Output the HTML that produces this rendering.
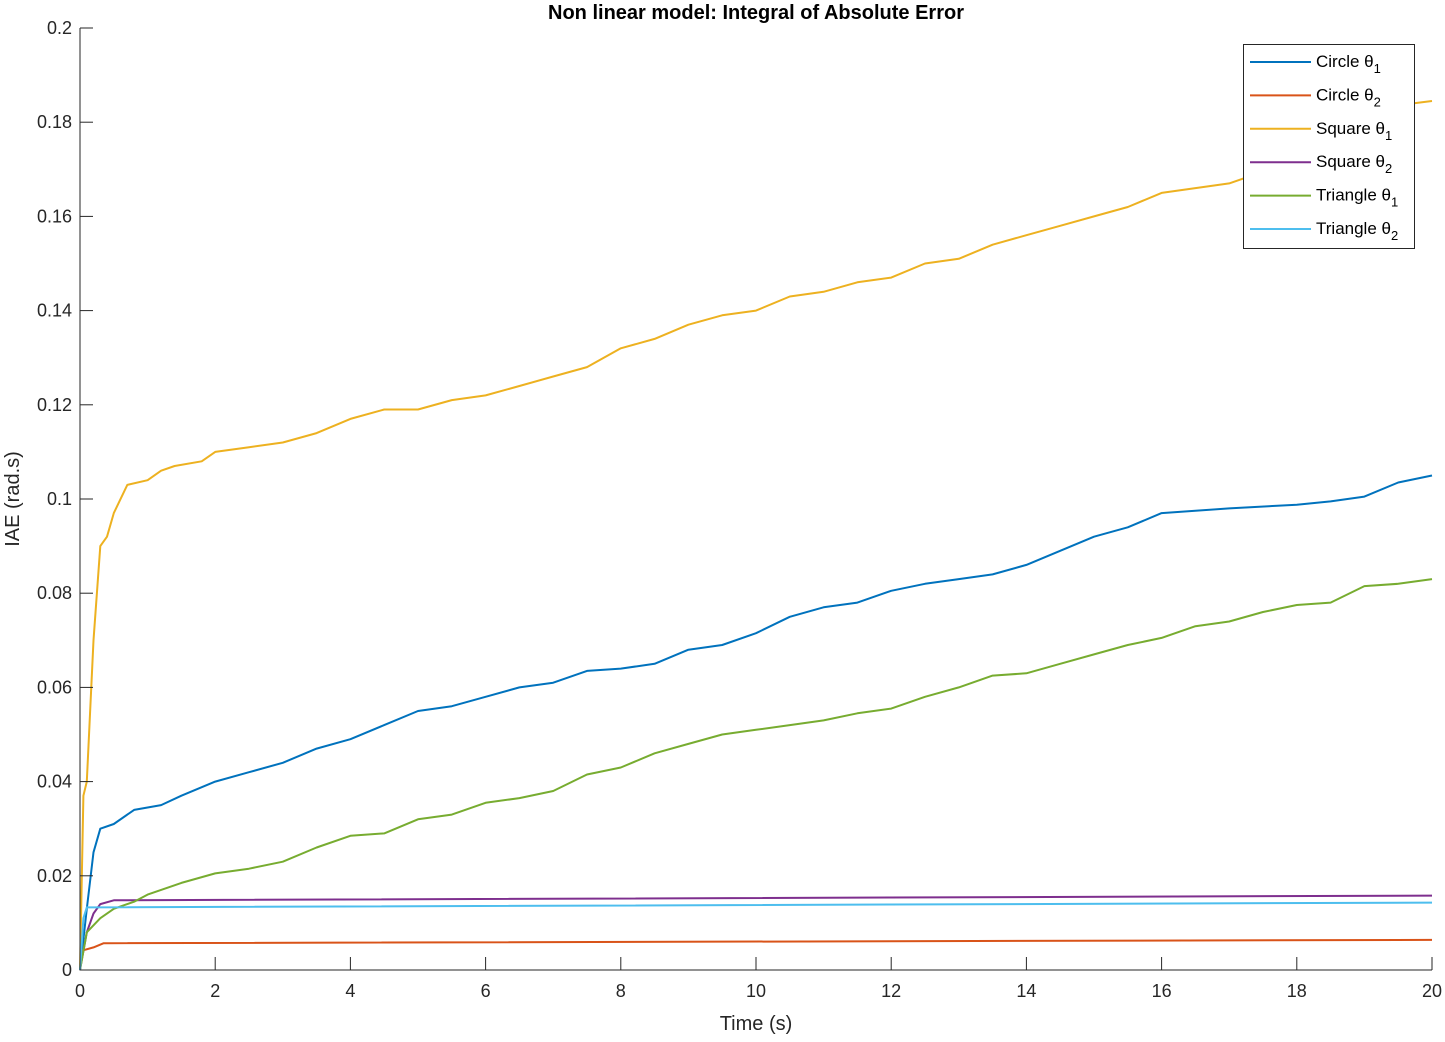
<!DOCTYPE html>
<html><head><meta charset="utf-8"><style>
body{margin:0;background:#fff;}
svg text{font-family:"Liberation Sans",Arial,sans-serif;fill:#262626;}
</style></head><body>
<svg id="chart" width="1445" height="1037" xmlns="http://www.w3.org/2000/svg">
<g id="grid"></g>
<g id="series" fill="none" stroke-width="2"></g>
<g id="axes"></g>
<text x="756" y="19" text-anchor="middle" font-size="20" font-weight="bold" style="fill:#000">Non linear model: Integral of Absolute Error</text>
<text x="756" y="1030" text-anchor="middle" font-size="20">Time (s)</text>
<text transform="translate(19,499) rotate(-90)" text-anchor="middle" font-size="20">IAE (rad.s)</text>
<g id="legend"></g>
</svg>
<script>
const xTicks=[0,2,4,6,8,10,12,14,16,18,20];
const yTicks=[0,0.02,0.04,0.06,0.08,0.1,0.12,0.14,0.16,0.18,0.2];
const yTickLabels=["0","0.02","0.04","0.06","0.08","0.1","0.12","0.14","0.16","0.18","0.2"];
const circle1T=[0,0.1,0.2,0.3,0.5,0.8,1.2,1.5,2,2.5,3,3.5,4,4.5,5,5.5,6,6.5,7,7.5,8,8.5,9,9.5,10,10.5,11,11.5,12,12.5,13,13.5,14,14.5,15,15.5,16,16.5,17,18,18.5,19,19.5,20];
const circle1V=[0,0.013,0.025,0.030,0.031,0.034,0.035,0.037,0.040,0.042,0.044,0.047,0.049,0.052,0.055,0.056,0.058,0.060,0.061,0.0635,0.064,0.065,0.068,0.069,0.0715,0.075,0.077,0.078,0.0805,0.082,0.083,0.084,0.086,0.089,0.092,0.094,0.097,0.0975,0.098,0.0988,0.0995,0.1005,0.1035,0.105];
const circle2T=[0,0.2,0.35,20];
const circle2V=[0.004,0.0048,0.0057,0.0064];
const square1T=[0,0.05,0.1,0.2,0.3,0.4,0.5,0.7,1,1.2,1.4,1.8,2,2.5,3,3.5,4,4.5,5,5.5,6,6.5,7,7.5,8,8.5,9,9.5,10,10.5,11,11.5,12,12.5,13,13.5,14,14.5,15,15.5,16,16.5,17,17.5,18,18.5,19,19.5,20];
const square1V=[0,0.037,0.04,0.07,0.09,0.092,0.097,0.103,0.104,0.106,0.107,0.108,0.110,0.111,0.112,0.114,0.117,0.119,0.119,0.121,0.122,0.124,0.126,0.128,0.132,0.134,0.137,0.139,0.140,0.143,0.144,0.146,0.147,0.150,0.151,0.154,0.156,0.158,0.160,0.162,0.165,0.166,0.167,0.1695,0.174,0.178,0.182,0.1836,0.1845];
const square2T=[0,0.1,0.2,0.3,0.5,20];
const square2V=[0,0.008,0.012,0.014,0.0148,0.0158];
const tri1T=[0,0.1,0.3,0.5,0.8,1,1.5,2,2.5,3,3.5,4,4.5,5,5.5,6,6.5,7,7.5,8,8.5,9,9.5,10,10.5,11,11.5,12,12.5,13,13.5,14,14.5,15,15.5,16,16.5,17,17.5,18,18.5,19,19.5,20];
const tri1V=[0,0.008,0.011,0.013,0.0145,0.016,0.0185,0.0205,0.0215,0.023,0.026,0.0285,0.029,0.032,0.033,0.0355,0.0365,0.038,0.0415,0.043,0.046,0.048,0.050,0.051,0.052,0.053,0.0545,0.0555,0.058,0.060,0.0625,0.063,0.065,0.067,0.069,0.0705,0.073,0.074,0.076,0.0775,0.078,0.0815,0.082,0.083];
const tri2T=[0,0.05,0.1,20];
const tri2V=[0,0.011,0.0133,0.0143];
const seriesNames=["Circle","Circle","Square","Square","Triangle","Triangle"];
const seriesSub=["1","2","1","2","1","2"];

const X0=80,X1=1432,Y0=970,Y1=28;
const sx=t=>X0+(t/20)*(X1-X0);
const sy=v=>Y0-(v/0.2)*(Y0-Y1);
const NS="http://www.w3.org/2000/svg";
function mk(tag,attrs,parent){const e=document.createElementNS(NS,tag);for(const k in attrs)e.setAttribute(k,attrs[k]);parent.appendChild(e);return e;}
const axes=document.getElementById('axes');
let a=mk('path',{d:`M${X0},${Y1}V${Y0}H${X1}`,stroke:'#262626','stroke-width':1,fill:'none'},axes);


xTicks.forEach(t=>{
  const x=sx(t);
  const l=mk('line',{x1:x,x2:x,y1:Y0,y2:Y0-13,stroke:'#262626'},axes);
  
  
  const tx=mk('text',{x:x,y:Y0+27,'text-anchor':'middle','font-size':18},axes);
  tx.textContent=t;
  
  
});
yTicks.forEach((v,i)=>{
  const y=sy(v);
  const l=mk('line',{x1:X0,x2:X0+13,y1:y,y2:y,stroke:'#262626'},axes);
  
  
  const tx=mk('text',{x:X0-8,y:y+6,'text-anchor':'end','font-size':18},axes);
  tx.textContent=yTickLabels[i];
  
  
});
const colors=['#0072BD','#D95319','#EDB120','#7E2F8E','#77AC30','#4DBEEE'];
const data=[[circle1T,circle1V],[circle2T,circle2V],[square1T,square1V],[square2T,square2V],[tri1T,tri1V],[tri2T,tri2V]];
const names=['circle-theta1-line','circle-theta2-line','square-theta1-line','square-theta2-line','triangle-theta1-line','triangle-theta2-line'];
const sg=document.getElementById('series');
data.forEach((d,i)=>{
  const pts=d[0].map((t,j)=>sx(t).toFixed(1)+','+sy(d[1][j]).toFixed(1)).join(' ');
  const p=mk('polyline',{points:pts,stroke:colors[i],'stroke-linejoin':'round'},sg);
  
  
});
const lg=document.getElementById('legend');
const box=mk('rect',{x:1243.5,y:44.5,width:171,height:204,fill:'#fff',stroke:'#262626'},lg);


seriesNames.forEach((n,i)=>{
  const y=62+i*33.4;
  const g=mk('g',{},lg);
  
  
  mk('line',{x1:1250,x2:1311,y1:y,y2:y,stroke:colors[i],'stroke-width':2},g);
  const tx=mk('text',{x:1316,y:y+5,'font-size':17,style:'fill:#000'},g);
  tx.textContent=n+' θ';
  const ts=mk('tspan',{dy:6,'font-size':13},tx);
  ts.textContent=seriesSub[i];
});
</script>
</body></html>
